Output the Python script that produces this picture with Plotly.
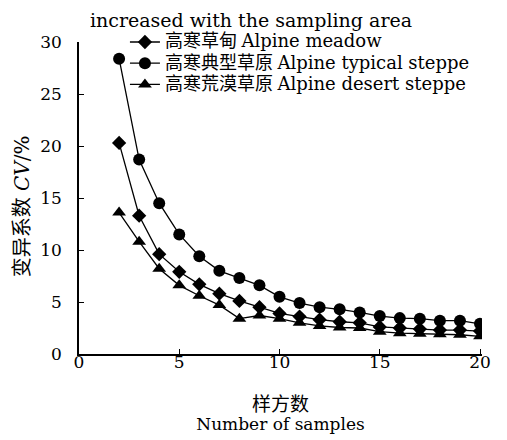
import plotly.graph_objects as go

# number of samples
samples = list(range(2, 21))

# CV (%) per grassland type
cv_meadow = [20.3, 13.3, 9.6, 7.9, 6.7, 5.8, 5.1, 4.5, 3.9, 3.6, 3.3, 3.1, 3.0, 2.6, 2.5, 2.4, 2.3, 2.3, 2.2]
cv_typical = [28.4, 18.7, 14.5, 11.5, 9.4, 8.0, 7.3, 6.6, 5.5, 4.9, 4.5, 4.3, 4.0, 3.65, 3.45, 3.4, 3.2, 3.2, 2.9]
cv_desert = [13.6, 10.8, 8.2, 6.6, 5.6, 4.7, 3.4, 3.7, 3.4, 3.0, 2.7, 2.55, 2.5, 2.15, 2.0, 1.95, 1.9, 1.85, 1.7]

names_cn = ["高寒草甸", "高寒典型草原", "高寒荒漠草原"]
names_en = ["Alpine meadow", "Alpine typical steppe", "Alpine desert steppe"]
symbols = ["diamond", "circle", "triangle-up"]
sizes = [11, 12, 12]

SERIF = "DejaVu Serif, Noto Sans CJK SC, serif"

fig = go.Figure()
for cn, en, vals, sym, size in zip(names_cn, names_en, [cv_meadow, cv_typical, cv_desert], symbols, sizes):
    fig.add_trace(go.Scatter(
        x=samples, y=vals,
        name=f'<span style="font-size:18px">{cn}</span> <span style="font-size:18px">{en}</span>',
        mode="lines+markers",
        line=dict(color="black", width=1.3),
        marker=dict(symbol=sym, size=size, color="black"),
    ))

fig.update_xaxes(
    range=[0, 20.1], tickvals=[0, 5, 10, 15, 20],
    showline=True, linecolor="black", linewidth=1.5,
    ticks="inside", ticklen=5, tickcolor="black", tickwidth=1.2,
    showgrid=False, zeroline=False, automargin=False,
    tickfont=dict(size=17), ticklabelstandoff=-8,
    title=dict(
        text='<span style="font-size:19px">样方数</span><br>'
             '<span style="font-size:17px">Number of samples</span>',
        font=dict(size=15), standoff=29,
    ),
)
fig.update_yaxes(
    range=[0, 30], tickvals=[0, 5, 10, 15, 20, 25, 30],
    showline=True, linecolor="black", linewidth=1.5,
    ticks="inside", ticklen=5, tickcolor="black", tickwidth=1.2,
    showgrid=False, zeroline=False, automargin=False,
    tickfont=dict(size=17), ticklabelstandoff=12,
)

# y title sits a bit below the plot middle in the original
fig.add_annotation(
    text="变异系数 <i>CV</i>/%", xref="paper", yref="paper",
    x=-0.141, y=0.474, textangle=-90, showarrow=False,
    font=dict(size=20), xanchor="center", yanchor="middle",
)
fig.add_annotation(
    text="increased with the sampling area", xref="paper", yref="paper",
    x=0.427, y=1.0, yshift=22, showarrow=False,
    font=dict(size=19), xanchor="center", yanchor="middle",
)

# page body adds 8px offset, so margins are shifted by 8
fig.update_layout(
    template="none",
    width=507, height=440,
    margin=dict(l=71, r=33, t=34, b=94, autoexpand=False),
    paper_bgcolor="white", plot_bgcolor="white",
    font=dict(family=SERIF, size=17, color="black"),
    legend=dict(
        x=0.114, y=1.05, xanchor="left", yanchor="top",
        font=dict(family=SERIF, size=14, color="black"),
        bgcolor="rgba(0,0,0,0)", borderwidth=0,
        tracegroupgap=0, itemwidth=30,
    ),
    showlegend=True,
)

fig.write_html("out.html")
